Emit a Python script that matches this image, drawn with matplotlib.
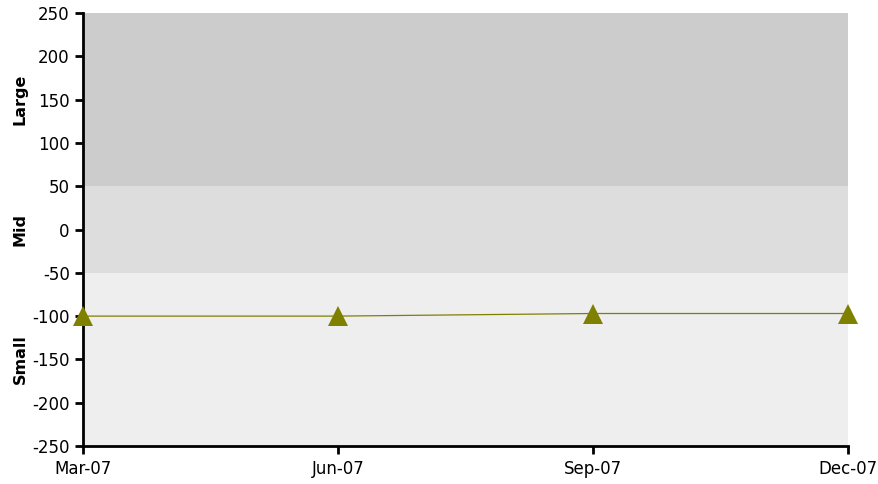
import matplotlib
matplotlib.use('Agg')
from matplotlib import pyplot as plt
from matplotlib import transforms

dates = ['Mar-07', 'Jun-07', 'Sep-07', 'Dec-07']
values = [-100, -100, -97, -97]

band_names = ['Small', 'Mid', 'Large']
band_low = [-250, -50, 50]
band_high = [-50, 50, 250]
band_colors = ['#eeeeee', '#dddddd', '#cccccc']

plt.rcParams['font.family'] = ['DejaVu Sans']
plt.rcParams['axes.unicode_minus'] = False

fig = plt.figure(figsize=(8.79, 4.84), dpi=100)
ax = fig.add_axes([83 / 879, 38 / 484, 765 / 879, 433 / 484])

for lo, hi, c in zip(band_low, band_high, band_colors):
    ax.axhspan(lo, hi, color=c, lw=0, zorder=0)

x = list(range(len(dates)))
ax.plot(x, values, color='#808000', lw=0.9, marker='^', markersize=14,
        markeredgewidth=0, clip_on=False, zorder=3)

ax.set_xlim(0, len(dates) - 1)
ax.set_ylim(-250, 250)
ax.set_xticks(x)
ax.set_xticklabels(dates)
ax.set_yticks(range(-250, 251, 50))

for side in ['top', 'right']:
    ax.spines[side].set_visible(False)
for side in ['left', 'bottom']:
    ax.spines[side].set_linewidth(2)
ax.tick_params(axis='both', direction='out', length=6, width=2, labelsize=12)
ax.tick_params(axis='x', pad=4)

# band names on the left, centred on each band
trans = transforms.blended_transform_factory(fig.transFigure, ax.transData)
for name, lo, hi in zip(band_names, band_low, band_high):
    ax.text(20 / 879, (lo + hi) / 2, name, transform=trans, rotation=90,
            ha='center', va='center', fontsize=11.5, fontweight='bold')

plt.savefig('out.png', dpi=100)
plt.close()
